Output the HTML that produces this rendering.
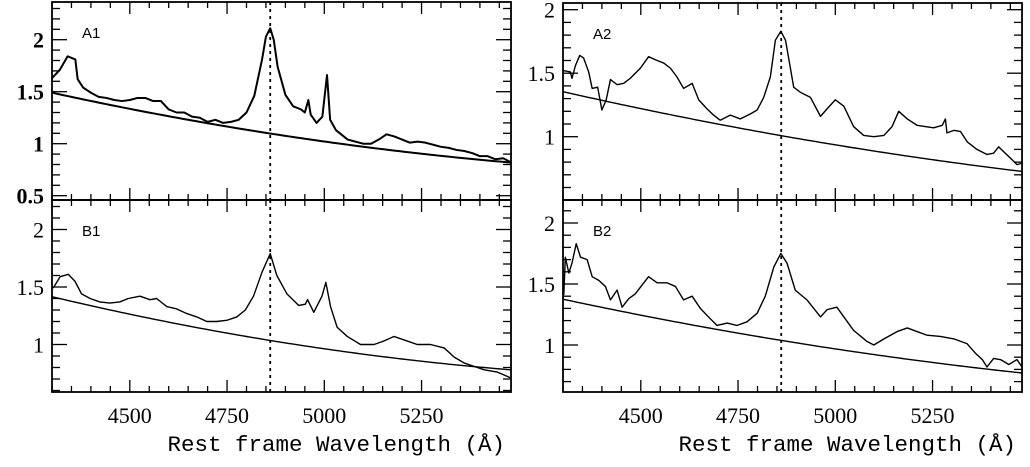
<!DOCTYPE html>
<html><head><meta charset="utf-8"><style>
html,body{margin:0;padding:0;background:#fff;}
svg{display:block;font-family:"Liberation Serif",serif;}
</style></head><body>
<svg id="chart" width="1030" height="467" viewBox="0 0 1030 467" xmlns="http://www.w3.org/2000/svg"></svg>
<script>
// ---- data ----
const a1Wave = [4300,4320,4340,4360,4366,4380,4400,4420,4440,4460,4480,4500,4520,4540,4560,4580,4600,4620,4640,4660,4680,4700,4720,4740,4760,4780,4800,4820,4840,4850,4861,4870,4880,4900,4920,4940,4950,4959,4965,4980,4995,5007,5015,5030,5060,5080,5100,5120,5140,5160,5180,5200,5220,5240,5260,5280,5300,5320,5340,5360,5380,5400,5420,5440,5460,5480];
const a1Flux = [1.63,1.71,1.84,1.81,1.62,1.54,1.49,1.45,1.44,1.42,1.41,1.42,1.44,1.44,1.41,1.41,1.33,1.30,1.30,1.26,1.25,1.21,1.23,1.20,1.21,1.23,1.30,1.46,1.81,2.03,2.11,2.00,1.74,1.47,1.36,1.33,1.30,1.42,1.28,1.20,1.26,1.66,1.23,1.13,1.04,1.02,1.00,1.00,1.04,1.09,1.07,1.04,1.01,1.02,1.01,0.99,0.97,0.96,0.94,0.93,0.91,0.88,0.88,0.85,0.86,0.82];
const b1Wave = [4303,4321,4342,4359,4376,4398,4423,4449,4474,4496,4526,4552,4569,4595,4620,4646,4672,4698,4723,4749,4775,4797,4818,4840,4861,4878,4904,4934,4951,4957,4973,4994,5004,5016,5033,5059,5093,5128,5153,5179,5205,5239,5273,5308,5334,5359,5385,5411,5445,5479];
const b1Flux = [1.49,1.59,1.61,1.55,1.44,1.40,1.37,1.36,1.37,1.40,1.42,1.39,1.40,1.33,1.31,1.27,1.24,1.20,1.20,1.21,1.24,1.30,1.42,1.63,1.79,1.60,1.44,1.34,1.35,1.39,1.28,1.42,1.54,1.33,1.15,1.07,1.00,1.00,1.03,1.07,1.04,1.00,1.00,0.97,0.89,0.84,0.81,0.78,0.76,0.71];
const a2Wave = [4302,4319,4323,4332,4343,4353,4366,4375,4389,4400,4411,4422,4439,4456,4473,4499,4520,4542,4559,4576,4593,4610,4632,4649,4670,4687,4704,4730,4756,4782,4799,4816,4833,4846,4860,4872,4884,4893,4910,4936,4962,4979,5000,5022,5047,5073,5099,5125,5146,5163,5185,5210,5231,5253,5275,5283,5287,5305,5322,5339,5364,5390,5407,5420,5437,5454,5467,5478];
const a2Flux = [1.52,1.51,1.46,1.56,1.64,1.62,1.51,1.38,1.39,1.21,1.29,1.45,1.41,1.42,1.46,1.54,1.63,1.60,1.58,1.54,1.47,1.38,1.42,1.29,1.22,1.17,1.13,1.17,1.14,1.18,1.21,1.31,1.47,1.76,1.83,1.76,1.55,1.39,1.35,1.31,1.16,1.22,1.29,1.24,1.08,1.01,1.00,1.01,1.08,1.20,1.14,1.09,1.08,1.07,1.09,1.14,1.03,1.05,1.04,0.96,0.90,0.86,0.87,0.92,0.87,0.82,0.78,0.79];
const b2Wave = [4302,4306,4315,4323,4334,4345,4362,4375,4392,4409,4422,4439,4452,4469,4486,4503,4520,4542,4567,4589,4610,4632,4653,4674,4696,4722,4747,4773,4799,4820,4842,4860,4876,4897,4927,4962,4979,5004,5022,5047,5081,5099,5125,5159,5185,5210,5236,5270,5305,5339,5361,5378,5390,5407,5425,5446,5467,5480];
const b2Flux = [1.41,1.72,1.59,1.67,1.83,1.72,1.70,1.56,1.53,1.48,1.37,1.45,1.31,1.38,1.42,1.49,1.56,1.51,1.51,1.48,1.37,1.40,1.30,1.23,1.16,1.18,1.16,1.19,1.26,1.40,1.64,1.75,1.67,1.45,1.37,1.23,1.29,1.31,1.23,1.12,1.03,1.00,1.05,1.11,1.14,1.11,1.08,1.07,1.05,1.01,0.93,0.88,0.82,0.89,0.88,0.84,0.88,0.82];
const contWave = [4300,4500,4750,4861,5000,5250,5480];
const a1Cont = [1.48,1.35,1.18,1.087,1.005,0.91,0.82];
const b1Cont = [1.41,1.27,1.11,1.03,0.95,0.86,0.78];
const a2Cont = [1.35,1.22,1.10,0.995,0.92,0.82,0.73];
const b2Cont = [1.38,1.23,1.12,1.03,0.96,0.86,0.77];
const xTicks = [4500,4750,5000,5250];
const xTickLabels = ["4500","4750","5000","5250"];
const hbeta = 4861;

const NS = "http://www.w3.org/2000/svg";
const svg = document.getElementById('chart');
function mk(tag, attrs, parent){const e=document.createElementNS(NS,tag);for(const k in attrs)e.setAttribute(k,attrs[k]);(parent||svg).appendChild(e);return e;}
// least-squares quadratic fit f(w) for a smooth continuum through the sampled values
function quadFit(ws, fs){
  const t = ws.map(w=>(w-4900)/600);
  let S=[0,0,0,0,0], T=[0,0,0];
  t.forEach((x,i)=>{const f=fs[i];let p=1;for(let k=0;k<5;k++){S[k]+=p;if(k<3)T[k]+=p*f;p*=x;}});
  const M=[[S[0],S[1],S[2],T[0]],[S[1],S[2],S[3],T[1]],[S[2],S[3],S[4],T[2]]];
  for(let i=0;i<3;i++){for(let j=i+1;j<3;j++){const r=M[j][i]/M[i][i];for(let k=i;k<4;k++)M[j][k]-=r*M[i][k];}}
  const c=[0,0,0];
  for(let i=2;i>=0;i--){let s=M[i][3];for(let k=i+1;k<3;k++)s-=M[i][k]*c[k];c[i]=s/M[i][i];}
  return w=>{const x=(w-4900)/600;return c[0]+c[1]*x+c[2]*x*x;};
}

const W0=4300, W1=5480, PXA=0.389;
function panel(name, x0, top, bot, y1px, ppu, yMin, yMax, yLabels, bold, label, wave, flux, cwave, cflux, lw, showXLabels){
  const x1 = x0 + (W1-W0)*PXA;
  const X = w => x0 + (w-W0)*PXA;
  const Y = v => y1px - (v-1)*ppu;
  const g = mk('g',{});
  
  
  for(let w=4300; w<=W1; w+=50){
    const major = w%250===0;
    const L = major?12:6;
    const t1 = mk('line',{x1:X(w),x2:X(w),y1:top,y2:top+L,stroke:'#000','stroke-width':1.3},g);
    
    
    const t2 = mk('line',{x1:X(w),x2:X(w),y1:bot,y2:bot-L,stroke:'#000','stroke-width':1.3},g);
    
    
  }
  for(let k=Math.ceil(yMin*10); k<=Math.floor(yMax*10); k++){
    const v=k/10, y=Y(v); if(y<top+1||y>bot-1) continue;
    const L = (k%5===0)?15:8;
    const t = mk('line',{x1:x0,x2:x0+L,y1:y,y2:y,stroke:'#000','stroke-width':1.3},g);
    
    
    const t2 = mk('line',{x1:x1,x2:x1-L,y1:y,y2:y,stroke:'#000','stroke-width':1.3},g);
    
    
  }
  yLabels.forEach(v=>{
    const t = mk('text',{x:x0-8,y:Y(v)+8,'text-anchor':'end','font-size':22,'font-weight':bold?'bold':'normal'},g);
    t.textContent = (v===1||v===2)?String(v):v.toFixed(1);
    
    
  });
  const fr = mk('rect',{x:x0,y:top,width:x1-x0,height:bot-top,fill:'none',stroke:'#000','stroke-width':1.8},g);
  
  
  const fit = quadFit(cwave, cflux);
  const cpts = [];
  for(let w=W0; w<=W1; w+=10) cpts.push(X(w)+','+Y(fit(w)));
  const c = mk('polyline',{points:cpts.join(' '),fill:'none',stroke:'#000','stroke-width':lw},g);
  
  
  const s = mk('polyline',{points:wave.map((w,i)=>X(w)+','+Y(flux[i])).join(' '),fill:'none',stroke:'#000','stroke-width':lw,'stroke-linejoin':'round'},g);
  
  
  const d = mk('line',{x1:X(hbeta),x2:X(hbeta),y1:top,y2:bot,stroke:'#000','stroke-width':1.8,'stroke-dasharray':'3,4'},g);
  
  
  const pl = mk('text',{x:x0+30,y:top+36,'font-size':15,'font-family':'Liberation Sans, sans-serif'},g);
  pl.textContent = label;
  
  
  if(showXLabels){
    xTicks.forEach((w,i)=>{
      const t = mk('text',{x:X(w),y:bot+31,'text-anchor':'middle','font-size':22},g);
      t.textContent = xTickLabels[i];
      
      
    });
    const xl = mk('text',{x:x1-6,y:bot+59,'text-anchor':'end','font-size':22.5,'font-family':'Liberation Mono, monospace'},g);
    xl.textContent = 'Rest frame Wavelength (Å)';
    
    
  }
}
panel('panel-a1',52,2,200,143.7,104,0.46,2.36,[2,1.5,1,0.5],true,'A1',a1Wave,a1Flux,contWave,a1Cont,2,false);
panel('panel-b1',52,200,392,344.5,115,0.6,2.25,[2,1.5,1],false,'B1',b1Wave,b1Flux,contWave,b1Cont,1.4,true);
panel('panel-a2',563,3,200,136.7,127,0.5,2.05,[2,1.5,1],false,'A2',a2Wave,a2Flux,contWave,a2Cont,1.4,false);
panel('panel-b2',563,200,392,345,122,0.6,2.2,[2,1.5,1],false,'B2',b2Wave,b2Flux,contWave,b2Cont,1.4,true);
</script>
</body></html>
